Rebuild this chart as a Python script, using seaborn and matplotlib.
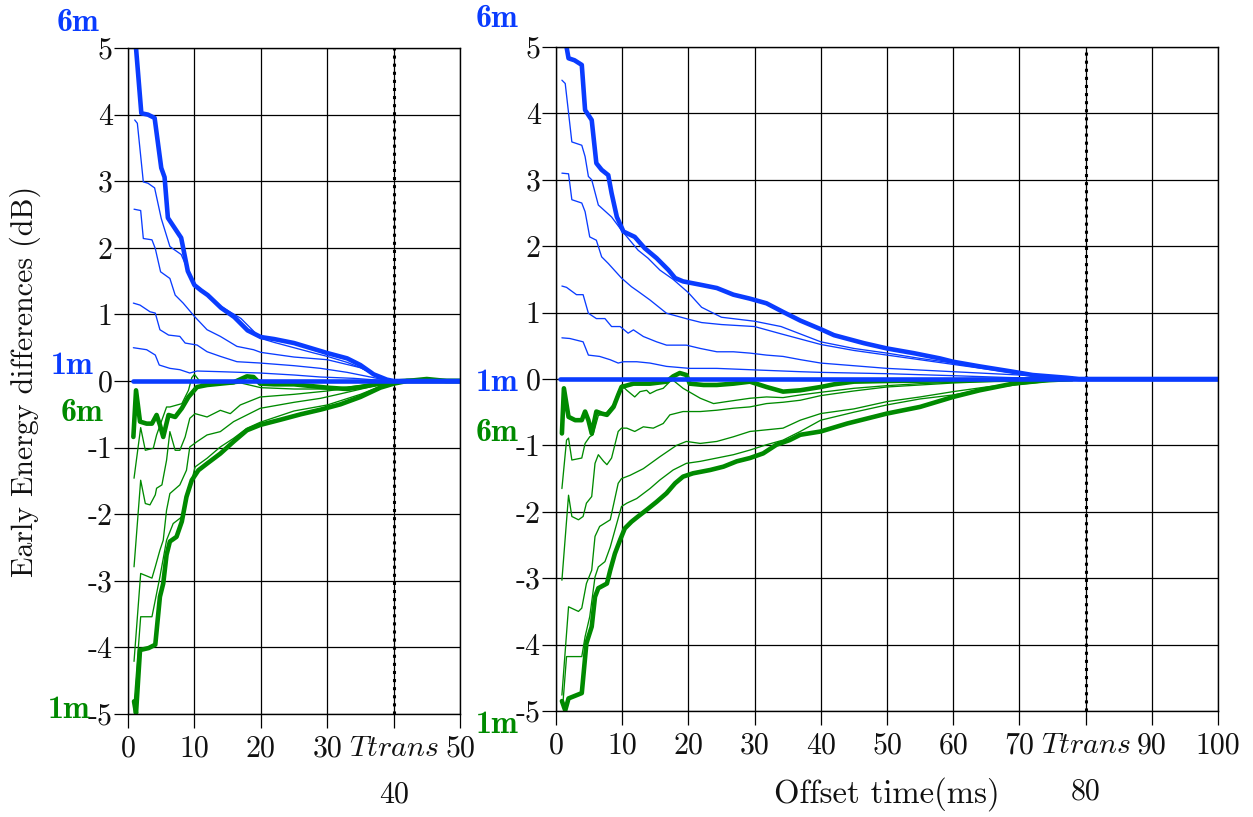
import matplotlib
matplotlib.use("Agg")
import matplotlib.pyplot as plt
import seaborn as sns

# ---------------- data ----------------
Y_TICKS = [5, 4, 3, 2, 1, 0, -1, -2, -3, -4, -5]
Y_LABELS = ["5", "4", "3", "2", "1", "0", "-1", "-2", "-3", "-4", "-5"]
L_XTICKS = [0, 10, 20, 30, 40, 50]
L_XLABELS = ["0", "10", "20", "30", "$Ttrans$", "50"]
R_XTICKS = [0, 10, 20, 30, 40, 50, 60, 70, 80, 90, 100]
R_XLABELS = ["0", "10", "20", "30", "40", "50", "60", "70", "$Ttrans$", "90", "100"]
L_TTRANS = 40
R_TTRANS = 80

# left panel, blue (positive) curves
LB6_T = [1.2, 2.0, 3.0, 4.0, 5.0, 5.5, 6.0, 7.0, 8.0, 9.0, 10.0, 11.0, 12.0, 14.0, 16.0, 18.0, 20.0, 22.0, 25.0, 28.0, 30.0, 33.0, 35.0, 37.0, 39.0, 40.0, 45.0, 50.0]
LB6 = [5.0, 4.02, 4.0, 3.95, 3.2, 3.06, 2.45, 2.3, 2.15, 1.65, 1.44, 1.36, 1.29, 1.1, 0.96, 0.76, 0.66, 0.63, 0.57, 0.48, 0.42, 0.34, 0.24, 0.1, 0.02, 0.0, 0.0, 0.0]
LB5_T = [1.0, 1.4, 2.3, 3.0, 4.0, 5.0, 6.3, 7.0, 8.0, 9.0, 10.0, 12.0, 14.0, 16.0, 17.0, 18.0, 20.0, 22.0, 25.0, 28.0, 30.0, 33.0, 35.0, 37.0, 39.0, 40.0, 50.0]
LB5 = [3.92, 3.87, 2.99, 2.97, 2.9, 2.44, 2.02, 1.97, 1.9, 1.67, 1.46, 1.3, 1.12, 1.0, 0.94, 0.84, 0.64, 0.58, 0.5, 0.42, 0.37, 0.28, 0.2, 0.1, 0.02, 0.0, 0.0]
LB4_T = [0.9, 1.9, 2.3, 3.6, 4.1, 4.9, 6.3, 7.1, 8.3, 10.0, 11.9, 13.9, 16.4, 18.9, 20.0, 25.0, 30.0, 35.0, 38.0, 40.0, 50.0]
LB4 = [2.58, 2.56, 2.14, 2.12, 1.99, 1.64, 1.54, 1.29, 1.17, 0.97, 0.77, 0.67, 0.52, 0.47, 0.43, 0.36, 0.32, 0.2, 0.06, 0.0, 0.0]
LB3_T = [0.8, 1.8, 3.3, 4.1, 4.8, 6.1, 7.8, 8.6, 10.4, 11.9, 13.9, 16.4, 19.9, 25.0, 29.0, 33.0, 36.0, 38.0, 40.0, 50.0]
LB3 = [1.17, 1.14, 1.04, 1.02, 0.77, 0.69, 0.67, 0.57, 0.54, 0.44, 0.37, 0.29, 0.27, 0.23, 0.19, 0.13, 0.07, 0.03, 0.0, 0.0]
LB2_T = [0.8, 2.8, 4.1, 4.7, 6.3, 7.8, 9.3, 10.4, 13.9, 19.9, 25.0, 29.0, 34.0, 38.0, 40.0, 50.0]
LB2 = [0.5, 0.47, 0.39, 0.24, 0.19, 0.17, 0.12, 0.15, 0.14, 0.12, 0.09, 0.06, 0.04, 0.01, 0.0, 0.0]
LB1_T = [0.7, 10.0, 20.0, 30.0, 40.0, 50.0]
LB1 = [0.0, 0.0, 0.0, 0.0, 0.0, 0.0]

# left panel, green (negative) curves
LG6_T = [0.8, 1.2, 1.8, 2.8, 3.6, 4.3, 4.8, 5.3, 6.1, 7.1, 8.1, 9.1, 10.4, 11.9, 13.9, 15.9, 17.9, 18.9, 19.9, 22.0, 25.0, 28.0, 30.0, 33.0, 35.0, 38.0, 40.0, 43.0, 45.0, 48.0, 50.0]
LG6 = [-0.84, -0.14, -0.61, -0.64, -0.64, -0.51, -0.66, -0.84, -0.51, -0.54, -0.41, -0.24, -0.09, -0.06, -0.04, -0.02, 0.07, 0.06, -0.04, -0.05, -0.05, -0.08, -0.1, -0.12, -0.09, -0.04, -0.01, 0.01, 0.03, 0.0, 0.0]
LG5_T = [0.9, 1.9, 2.6, 3.8, 4.3, 5.8, 6.3, 8.1, 9.1, 9.6, 10.0, 11.0, 13.0, 15.0, 17.0, 20.0, 25.0, 30.0, 35.0, 38.0, 40.0, 45.0, 50.0]
LG5 = [-1.46, -0.70, -1.04, -1.01, -0.81, -0.39, -0.39, -0.34, -0.14, 0.05, 0.1, -0.03, -0.03, -0.05, -0.03, -0.1, -0.12, -0.12, -0.07, -0.02, 0.0, 0.0, 0.0]
LG4_T = [0.9, 1.9, 2.6, 3.3, 4.1, 4.3, 5.1, 5.8, 6.3, 7.1, 7.8, 8.6, 9.3, 10.1, 11.9, 13.9, 15.4, 16.9, 19.9, 25.0, 30.0, 35.0, 38.0, 40.0, 50.0]
LG4 = [-2.79, -1.49, -1.84, -1.86, -1.71, -1.61, -1.56, -1.19, -0.76, -1.04, -1.04, -0.84, -0.56, -0.49, -0.54, -0.44, -0.49, -0.36, -0.24, -0.2, -0.15, -0.08, -0.03, 0.0, 0.0]
LG3_T = [0.9, 1.9, 3.6, 4.1, 4.8, 5.3, 5.8, 6.3, 7.8, 8.8, 9.3, 10.4, 11.9, 13.9, 15.9, 17.9, 19.9, 25.0, 29.0, 33.0, 36.0, 38.0, 40.0, 50.0]
LG3 = [-4.21, -2.89, -2.96, -2.79, -2.54, -2.39, -1.94, -1.69, -1.56, -1.34, -0.99, -0.91, -0.81, -0.76, -0.61, -0.51, -0.41, -0.32, -0.26, -0.17, -0.1, -0.05, 0.0, 0.0]
LG2_T = [0.9, 1.9, 3.6, 4.1, 4.8, 5.8, 6.8, 8.1, 8.8, 9.6, 10.1, 11.9, 13.9, 15.9, 17.9, 19.9, 25.0, 30.0, 35.0, 38.0, 40.0, 50.0]
LG2 = [-4.87, -3.54, -3.54, -3.29, -2.94, -2.39, -2.14, -2.04, -1.74, -1.49, -1.29, -1.16, -0.99, -0.86, -0.71, -0.62, -0.45, -0.36, -0.2, -0.08, -0.02, 0.0]
LG1_T = [0.9, 1.2, 1.8, 3.1, 4.1, 4.8, 5.3, 5.8, 6.3, 7.3, 8.1, 8.8, 9.6, 10.6, 11.9, 13.9, 15.9, 17.9, 19.9, 23.0, 26.0, 29.0, 32.0, 35.0, 38.0, 40.0, 42.0, 50.0]
LG1 = [-4.81, -4.99, -4.04, -4.01, -3.96, -3.24, -3.04, -2.61, -2.41, -2.34, -2.11, -1.74, -1.49, -1.34, -1.24, -1.09, -0.91, -0.74, -0.66, -0.58, -0.5, -0.43, -0.35, -0.24, -0.1, -0.04, 0.0, 0.0]

# right panel, blue curves
RB6_T = [1.6, 1.9, 2.8, 3.9, 4.4, 5.4, 6.1, 6.9, 7.9, 8.4, 9.2, 10.2, 11.9, 13.4, 15.2, 17.0, 18.0, 19.2, 21.8, 24.3, 26.8, 29.3, 31.8, 34.3, 36.9, 40.0, 42.0, 46.5, 50.0, 54.0, 58.0, 60.0, 64.0, 69.0, 72.0, 77.0, 79.0, 90.0, 100.0]
RB6 = [5.0, 4.83, 4.8, 4.73, 4.05, 3.9, 3.25, 3.15, 3.07, 2.8, 2.44, 2.22, 2.14, 1.97, 1.82, 1.64, 1.52, 1.47, 1.42, 1.37, 1.27, 1.21, 1.14, 1.01, 0.88, 0.75, 0.66, 0.54, 0.46, 0.39, 0.31, 0.26, 0.19, 0.11, 0.06, 0.02, 0.0, 0.0, 0.0]
RB5_T = [0.9, 1.4, 2.4, 3.9, 4.4, 4.9, 5.4, 6.4, 8.4, 9.9, 12.4, 13.9, 15.7, 17.7, 20.0, 22.0, 25.0, 30.0, 34.0, 40.0, 45.0, 50.0, 55.0, 60.0, 65.0, 70.0, 75.0, 79.0, 100.0]
RB5 = [4.5, 4.45, 3.57, 3.52, 3.35, 3.05, 3.0, 2.62, 2.44, 2.24, 1.94, 1.82, 1.64, 1.5, 1.3, 1.08, 0.93, 0.87, 0.79, 0.56, 0.46, 0.39, 0.31, 0.24, 0.16, 0.09, 0.03, 0.0, 0.0]
RB4_T = [0.9, 1.9, 2.4, 3.9, 4.4, 5.1, 6.1, 6.9, 7.9, 9.9, 11.4, 12.4, 14.2, 16.7, 20.0, 22.0, 25.0, 30.0, 34.0, 40.0, 45.0, 50.0, 55.0, 60.0, 65.0, 70.0, 75.0, 79.0, 100.0]
RB4 = [3.1, 3.09, 2.7, 2.65, 2.52, 2.14, 2.09, 1.84, 1.74, 1.52, 1.39, 1.32, 1.19, 0.99, 0.9, 0.85, 0.82, 0.79, 0.68, 0.52, 0.43, 0.36, 0.29, 0.22, 0.15, 0.08, 0.03, 0.0, 0.0]
RB3_T = [0.9, 1.6, 3.1, 4.1, 4.9, 6.1, 7.4, 8.4, 9.7, 10.9, 11.7, 13.2, 15.2, 16.7, 19.7, 21.8, 24.3, 26.8, 29.3, 31.8, 34.3, 37.0, 40.0, 50.0, 60.0, 70.0, 78.0, 100.0]
RB3 = [1.4, 1.38, 1.27, 1.27, 0.99, 0.91, 0.91, 0.79, 0.79, 0.69, 0.74, 0.64, 0.56, 0.51, 0.51, 0.46, 0.41, 0.41, 0.39, 0.36, 0.34, 0.29, 0.24, 0.16, 0.11, 0.06, 0.0, 0.0]
RB2_T = [0.9, 2.1, 4.1, 4.9, 6.6, 8.2, 9.4, 10.2, 12.2, 14.2, 16.7, 20.2, 24.3, 29.3, 36.9, 40.0, 50.0, 60.0, 69.0, 77.0, 100.0]
RB2 = [0.62, 0.61, 0.56, 0.36, 0.34, 0.29, 0.24, 0.26, 0.26, 0.24, 0.19, 0.16, 0.16, 0.14, 0.11, 0.1, 0.08, 0.05, 0.02, 0.0, 0.0]
RB1_T = [0.6, 20.0, 40.0, 60.0, 80.0, 100.0]
RB1 = [0.0, 0.0, 0.0, 0.0, 0.0, 0.0]

# right panel, green curves
RG6_T = [0.9, 1.2, 1.9, 2.9, 3.9, 4.4, 4.9, 5.4, 6.1, 6.9, 7.7, 8.7, 9.4, 9.9, 11.7, 14.2, 16.7, 17.7, 18.7, 19.7, 20.2, 22.3, 24.3, 26.8, 29.3, 31.8, 34.3, 36.9, 40.0, 42.0, 45.0, 50.0, 60.0, 70.0, 78.0]
RG6 = [-0.82, -0.14, -0.57, -0.62, -0.62, -0.49, -0.62, -0.82, -0.49, -0.52, -0.54, -0.42, -0.24, -0.12, -0.07, -0.07, -0.04, 0.04, 0.09, 0.06, -0.07, -0.09, -0.09, -0.07, -0.04, -0.12, -0.19, -0.17, -0.12, -0.08, -0.04, -0.03, -0.02, -0.01, 0.0]
RG5_T = [0.9, 1.6, 1.9, 2.4, 3.9, 4.4, 5.1, 5.6, 6.4, 7.7, 8.7, 9.4, 9.9, 10.7, 11.9, 12.7, 13.7, 14.2, 15.2, 16.2, 17.2, 17.7, 19.2, 21.8, 23.8, 25.8, 29.3, 31.8, 34.3, 36.9, 40.0, 45.0, 50.0, 55.0, 60.0, 65.0, 70.0, 75.0, 78.0]
RG5 = [-1.65, -0.92, -0.89, -1.22, -1.19, -0.97, -0.87, -0.84, -0.55, -0.5, -0.38, -0.2, -0.09, -0.17, -0.27, -0.19, -0.17, -0.22, -0.17, -0.14, -0.04, -0.02, -0.14, -0.29, -0.37, -0.34, -0.29, -0.27, -0.28, -0.24, -0.2, -0.14, -0.1, -0.07, -0.05, -0.03, -0.02, -0.01, 0.0]
RG4_T = [0.9, 1.9, 2.4, 3.4, 4.1, 4.6, 5.4, 5.9, 6.4, 7.2, 7.7, 8.4, 9.4, 9.9, 10.7, 11.9, 13.2, 14.7, 16.2, 17.2, 19.2, 21.8, 24.3, 26.8, 29.3, 31.8, 34.3, 36.9, 40.0, 45.0, 50.0, 55.0, 60.0, 65.0, 70.0, 75.0, 78.0]
RG4 = [-3.03, -1.75, -2.07, -2.12, -2.07, -1.87, -1.77, -1.27, -1.14, -1.24, -1.29, -1.19, -0.79, -0.74, -0.74, -0.79, -0.72, -0.74, -0.67, -0.54, -0.49, -0.49, -0.47, -0.44, -0.42, -0.37, -0.35, -0.32, -0.25, -0.18, -0.12, -0.09, -0.06, -0.04, -0.02, -0.01, 0.0]
RG3_T = [0.9, 1.9, 3.4, 3.9, 4.6, 5.4, 5.9, 6.6, 8.2, 9.4, 9.9, 11.2, 13.2, 15.7, 18.2, 19.7, 21.8, 24.3, 26.8, 29.3, 34.3, 36.9, 40.0, 45.0, 50.0, 55.0, 60.0, 65.0, 70.0, 75.0, 78.0]
RG3 = [-4.76, -3.43, -3.5, -3.45, -3.08, -2.88, -2.37, -2.22, -2.12, -1.57, -1.5, -1.45, -1.35, -1.17, -1.0, -0.94, -0.97, -0.94, -0.87, -0.79, -0.74, -0.62, -0.52, -0.45, -0.34, -0.27, -0.19, -0.12, -0.06, -0.02, 0.0]
RG2_T = [1.0, 1.6, 3.9, 4.4, 5.1, 5.9, 6.4, 7.4, 8.2, 9.2, 9.9, 10.7, 12.2, 14.2, 15.7, 17.7, 19.7, 21.8, 24.3, 26.8, 29.3, 31.8, 34.3, 36.9, 40.0, 45.0, 50.0, 55.0, 60.0, 65.0, 70.0, 75.0, 78.0]
RG2 = [-4.95, -4.18, -4.18, -3.88, -3.58, -2.98, -2.83, -2.75, -2.53, -2.17, -1.92, -1.87, -1.8, -1.65, -1.52, -1.37, -1.27, -1.24, -1.19, -1.14, -1.07, -0.99, -0.92, -0.79, -0.62, -0.5, -0.39, -0.3, -0.24, -0.15, -0.08, -0.03, 0.0]
RG1_T = [0.9, 1.4, 1.9, 3.9, 4.6, 5.4, 5.9, 6.4, 7.7, 8.2, 8.9, 9.7, 10.4, 11.4, 12.4, 13.7, 15.2, 16.7, 18.0, 19.2, 20.7, 23.3, 25.3, 27.3, 29.3, 31.3, 33.3, 35.3, 36.9, 40.0, 44.0, 50.0, 55.0, 60.0, 64.0, 69.0, 74.0, 78.0]
RG1 = [-4.85, -4.99, -4.81, -4.73, -3.98, -3.73, -3.28, -3.15, -3.08, -2.88, -2.63, -2.42, -2.25, -2.15, -2.07, -1.97, -1.85, -1.72, -1.57, -1.47, -1.42, -1.37, -1.32, -1.24, -1.19, -1.12, -0.99, -0.92, -0.84, -0.79, -0.67, -0.52, -0.42, -0.27, -0.17, -0.07, -0.02, 0.0]

# ---------------- style ----------------
sns.set_style("ticks")
plt.rcParams["font.family"] = ["cmr10", "DejaVu Serif"]
plt.rcParams["mathtext.fontset"] = "cm"
plt.rcParams["axes.formatter.use_mathtext"] = True
plt.rcParams["axes.unicode_minus"] = False

BLUE = "#0a3cff"
GREEN = "#008a00"
THICK = 3.3
THIN = 0.95
FS = 21.5

fig = plt.figure(figsize=(12.53, 8.17), dpi=100)
ax_l = fig.add_axes([0.1022, 0.1261, 0.2649, 0.8151])
ax_r = fig.add_axes([0.4437, 0.1297, 0.5284, 0.8128])

left_curves = [
    (LG2_T, LG2, GREEN, THIN), (LG3_T, LG3, GREEN, THIN), (LG4_T, LG4, GREEN, THIN),
    (LG5_T, LG5, GREEN, THIN), (LG1_T, LG1, GREEN, THICK), (LG6_T, LG6, GREEN, THICK),
    (LB2_T, LB2, BLUE, THIN), (LB3_T, LB3, BLUE, THIN), (LB4_T, LB4, BLUE, THIN),
    (LB5_T, LB5, BLUE, THIN), (LB6_T, LB6, BLUE, THICK), (LB1_T, LB1, BLUE, THICK),
]
right_curves = [
    (RG2_T, RG2, GREEN, THIN), (RG3_T, RG3, GREEN, THIN), (RG4_T, RG4, GREEN, THIN),
    (RG5_T, RG5, GREEN, THIN), (RG1_T, RG1, GREEN, THICK), (RG6_T, RG6, GREEN, THICK),
    (RB2_T, RB2, BLUE, THIN), (RB3_T, RB3, BLUE, THIN), (RB4_T, RB4, BLUE, THIN),
    (RB5_T, RB5, BLUE, THIN), (RB6_T, RB6, BLUE, THICK), (RB1_T, RB1, BLUE, THICK),
]


def setup(ax, xmax, ttrans, xticks, xlabels):
    ax.set_xlim(0, xmax)
    ax.set_ylim(-5, 5)
    ax.set_xticks(xticks)
    ax.set_xticklabels(xlabels)
    ax.set_yticks(Y_TICKS)
    ax.set_yticklabels(Y_LABELS)
    ax.set_axisbelow(True)
    ax.grid(True, color="black", linewidth=0.9)
    ax.axvline(ttrans, color="black", linestyle=":", linewidth=2.2, zorder=1.5)
    ax.tick_params(direction="out", length=10, width=0.9, labelsize=FS,
                   color="black", labelcolor="#111111")
    ax.tick_params(axis="y", pad=1)
    ax.tick_params(axis="x", pad=5)
    for s in ax.spines.values():
        s.set_color("black")
        s.set_linewidth(1.0)
    ax.text(ttrans, -0.122, str(ttrans), transform=ax.get_xaxis_transform(),
            ha="center", va="center", fontsize=FS, color="#111111")


for ax, curves in [(ax_l, left_curves), (ax_r, right_curves)]:
    for t, v, c, lw in curves:
        sns.lineplot(x=t, y=v, ax=ax, color=c, linewidth=lw, estimator=None,
                     sort=False, legend=False, solid_capstyle="round")

setup(ax_l, 50, L_TTRANS, L_XTICKS, L_XLABELS)
setup(ax_r, 100, R_TTRANS, R_XTICKS, R_XLABELS)

ax_l.set_xlabel("")
ax_r.set_xlabel("Offset time(ms)", fontsize=23.5, color="#111111")
ax_r.xaxis.set_label_coords(0.5, -0.1)
ax_l.set_ylabel("Early Energy differences (dB)", fontsize=FS, color="#111111")
ax_l.yaxis.set_label_coords(-0.262, 0.5)
ax_r.set_ylabel("")

# distance labels
lab = dict(fontsize=23, fontfamily="cmb10", ha="center", va="center", clip_on=False)
ax_l.text(-7.6, 5.39, "6m", color=BLUE, **lab)
ax_l.text(-8.4, 0.24, "1m", color=BLUE, **lab)
ax_l.text(-6.9, -0.47, "6m", color=GREEN, **lab)
ax_l.text(-8.9, -4.94, "1m", color=GREEN, **lab)
ax_r.text(-8.9, 5.43, "6m", color=BLUE, **lab)
ax_r.text(-8.9, -0.06, "1m", color=BLUE, **lab)
ax_r.text(-8.9, -0.8, "6m", color=GREEN, **lab)
ax_r.text(-8.9, -5.2, "1m", color=GREEN, **lab)

fig.savefig("out.png", dpi=100)
